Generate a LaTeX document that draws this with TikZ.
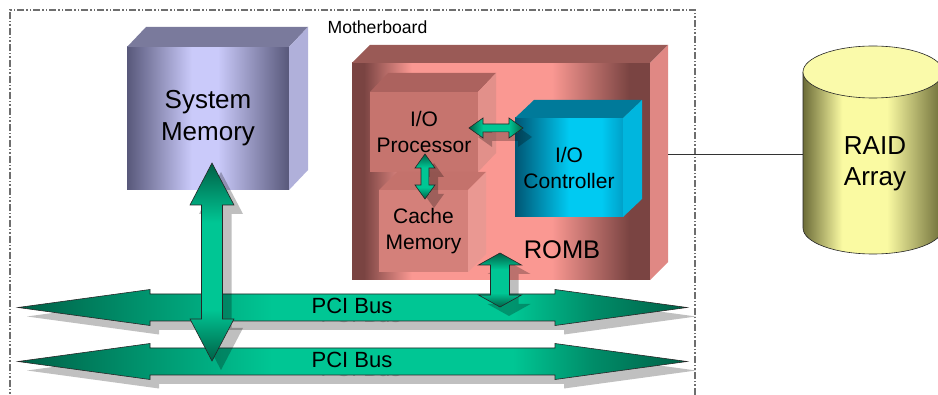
\documentclass[tikz,border=0pt]{standalone}
\usepackage{fontspec}
\setmainfont{Liberation Sans}
\usetikzlibrary{calc}

\definecolor{gdark}{RGB}{0,96,70}
\definecolor{gmid}{RGB}{0,140,104}
\definecolor{gbright}{RGB}{0,198,148}
\definecolor{smdark}{RGB}{88,88,122}
\definecolor{smlight}{RGB}{202,202,250}
\definecolor{smtop}{RGB}{122,122,156}
\definecolor{smright}{RGB}{176,176,218}
\definecolor{rombdark}{RGB}{122,68,66}
\definecolor{rombpink}{RGB}{250,152,146}
\definecolor{rombtop}{RGB}{154,90,86}
\definecolor{rombright}{RGB}{224,136,132}
\definecolor{procfront}{RGB}{198,116,110}
\definecolor{proctop}{RGB}{172,98,94}
\definecolor{procright}{RGB}{226,144,138}
\definecolor{cachefront}{RGB}{212,128,122}
\definecolor{cachetop}{RGB}{196,114,108}
\definecolor{cacheright}{RGB}{234,152,146}
\definecolor{ctrldark}{RGB}{0,86,116}
\definecolor{ctrllight}{RGB}{0,202,242}
\definecolor{ctrlend}{RGB}{0,160,200}
\definecolor{ctrltop}{RGB}{0,122,154}
\definecolor{ctrlright}{RGB}{0,182,222}
\definecolor{raiddark}{RGB}{108,108,56}
\definecolor{raidlight}{RGB}{250,250,162}
\definecolor{raidtop}{RGB}{250,250,170}
\definecolor{mbgray}{RGB}{110,110,110}
\definecolor{shadowgray}{RGB}{192,192,192}
\definecolor{ghostgray}{RGB}{150,150,150}

\pgfdeclarehorizontalshading{busshade}{100bp}{color(0bp)=(gdark); color(25bp)=(gdark); color(33bp)=(gmid); color(44bp)=(gbright); color(62bp)=(gbright); color(68bp)=(gmid); color(75bp)=(gdark); color(100bp)=(gdark)}
\pgfdeclarehorizontalshading{hsmall}{100bp}{color(0bp)=(gdark); color(25bp)=(gdark); color(38bp)=(gbright); color(62bp)=(gbright); color(75bp)=(gdark); color(100bp)=(gdark)}
\pgfdeclareverticalshading{vshade}{100bp}{color(0bp)=(gdark); color(25bp)=(gdark); color(38bp)=(gbright); color(60bp)=(gbright); color(75bp)=(gdark); color(100bp)=(gdark)}
\pgfdeclarehorizontalshading{smshade}{100bp}{color(0bp)=(smdark); color(25bp)=(smdark); color(45bp)=(smlight); color(53bp)=(smlight); color(75bp)=(smdark); color(100bp)=(smdark)}
\pgfdeclarehorizontalshading{rombshade}{100bp}{color(0bp)=(rombdark); color(25bp)=(rombdark); color(27bp)=(rombdark); color(35bp)=(rombpink); color(58.5bp)=(rombpink); color(71.5bp)=(rombdark); color(75bp)=(rombdark); color(100bp)=(rombdark)}
\pgfdeclarehorizontalshading{ctrlshade}{100bp}{color(0bp)=(ctrldark); color(25bp)=(ctrldark); color(50bp)=(ctrllight); color(65bp)=(ctrllight); color(75bp)=(ctrlend); color(100bp)=(ctrlend)}
\pgfdeclarehorizontalshading{raidshade}{100bp}{color(0bp)=(raiddark); color(25bp)=(raiddark); color(39bp)=(raidlight); color(55bp)=(raidlight); color(75bp)=(raiddark); color(100bp)=(raiddark)}

% horizontal double arrow: #1 left tip, #2 length, #3 shaft half, #4 head half, #5 head length, #6 style
\newcommand{\hdarr}[6]{\path[#6] (#1) -- ++(#5,-#4) -- ++(0,#4-#3) -- ++(#2-2*#5,0) -- ++(0,-#4+#3) -- ++(#5,#4) -- ++(-#5,#4) -- ++(0,-#4+#3) -- ++(-#2+2*#5,0) -- ++(0,#4-#3) -- cycle;}
% vertical double arrow: #1 top tip, #2 length, #3 shaft half, #4 head half, #5 head length, #6 style
\newcommand{\vdarr}[6]{\path[#6] (#1) -- ++(#4,#5) -- ++(-#4+#3,0) -- ++(0,#2-2*#5) -- ++(#4-#3,0) -- ++(-#4,#5) -- ++(-#4,-#5) -- ++(#4-#3,0) -- ++(0,-#2+2*#5) -- ++(-#4+#3,0) -- cycle;}

\begin{document}
\begin{tikzpicture}[x=1pt,y=-1pt,
  face/.style={draw=none, inner sep=0pt, outer sep=0pt, align=center, text=black},
  mbbox/.style={draw=mbgray, line width=1.1pt, dash pattern=on 7pt off 2pt on 1.5pt off 2pt on 1.5pt off 2pt, inner sep=0pt, outer sep=0pt},
  arrowline/.style={draw=black!85, line width=0.6pt},
  busfill/.style={shading=busshade, arrowline},
  hsfill/.style={shading=hsmall, arrowline},
  vsfill/.style={shading=vshade, arrowline},
  busshadow/.style={fill=shadowgray},
  arrshadow/.style={fill=black, fill opacity=0.25},
  bustxt/.style={font=\fontsize{22}{26}\selectfont, inner sep=0pt},
  ghosttxt/.style={font=\fontsize{22}{26}\selectfont, inner sep=0pt, text=ghostgray},
  midtxt/.style={font=\fontsize{21}{26}\selectfont}
]
\useasboundingbox (0,0) rectangle (938,395);
\fill[white] (0,0) rectangle (938,395);

% motherboard frame
\node[mbbox, minimum width=685, minimum height=388] (mb) at (352.5,204) {};
\node[font=\fontsize{17.6}{20}\selectfont, inner sep=0pt] (mblabel) at (377.5,27) {Motherboard};

% System memory cube
\node[face, shading=smshade, minimum width=162, minimum height=143, font=\fontsize{26}{32}\selectfont] (sm) at (208,118.5) {System\\Memory};
\fill[smtop] (sm.north west) -- ++(19,-20) -- ++(162,0) -- (sm.north east) -- cycle;
\fill[smright] (sm.north east) -- ++(19,-20) -- ++(0,143) -- (sm.south east) -- cycle;

% ROMB cube
\node[face, shading=rombshade, minimum width=298, minimum height=217] (romb) at (501,171.5) {};
\fill[rombtop] (romb.north west) -- ++(18,-18) -- ++(298,0) -- (romb.north east) -- cycle;
\fill[rombright] (romb.north east) -- ++(18,-18) -- ++(0,217) -- (romb.south east) -- cycle;
\node[font=\fontsize{25.5}{30}\selectfont, inner sep=0pt] (romblabel) at (562,250) {ROMB};
\coordinate (rombR) at ($(romb.east)+(18,-17.5)$);

% I/O Processor
\node[face, fill=procfront, minimum width=108, minimum height=80, midtxt] (proc) at (424,132) {I/O\\Processor};
\fill[proctop] (proc.north west) -- ++(18,-19) -- ++(108,0) -- (proc.north east) -- cycle;
\fill[procright] (proc.north east) -- ++(18,-19) -- ++(0,80) -- (proc.south east) -- cycle;

% Cache Memory
\node[face, fill=cachefront, minimum width=89, minimum height=82, midtxt] (cache) at (423.5,231) {Cache\\Memory};
\fill[cachetop] (cache.north west) -- ++(18,-18) -- ++(89,0) -- (cache.north east) -- cycle;
\fill[cacheright] (cache.north east) -- ++(18,-18) -- ++(0,82) -- (cache.south east) -- cycle;

% I/O Controller
\node[face, shading=ctrlshade, minimum width=108, minimum height=99, midtxt] (ctrl) at (569,167.5) {I/O\\Controller};
\fill[ctrltop] (ctrl.north west) -- ++(19,-18) -- ++(108,0) -- (ctrl.north east) -- cycle;
\fill[ctrlright] (ctrl.north east) -- ++(19,-18) -- ++(0,99) -- (ctrl.south east) -- cycle;

% small arrows
\coordinate (pcTip) at ($(proc.east)+(-9,-4)$);
\coordinate (pmTip) at ($(proc.south)+(1,-18)$);
\hdarr{$(pcTip)+(9,9)$}{54}{4}{10}{14}{arrshadow}
\hdarr{pcTip}{54}{4}{10}{14}{hsfill}
\vdarr{$(pmTip)+(9,9)$}{45}{4}{10}{14}{arrshadow}
\vdarr{pmTip}{45}{4}{10}{14}{vsfill}

% RAID array
\node[inner sep=0pt, outer sep=0pt, minimum width=140, minimum height=208] (raid) at (873,150) {};
\draw[line width=0.7pt, black!80] (rombR) -- (rombR -| raid.west);
\path[shading=raidshade] (803,72) -- (803,228) arc[start angle=180, end angle=360, x radius=70pt, y radius=26pt] -- (943,72) -- cycle;
\draw[line width=0.6pt, black!85] (803,72) -- (803,228) arc[start angle=180, end angle=360, x radius=70pt, y radius=26pt] -- (943,72);
\draw[line width=0.6pt, black!85, fill=raidtop] (873,72) ellipse[x radius=70pt, y radius=26pt];
\node[font=\fontsize{26}{31}\selectfont, align=center, inner sep=0pt] (raidlabel) at (875,164) {RAID\\Array};

% PCI buses
\coordinate (b1) at (18,307.5);
\coordinate (b2) at (18,361.5);
\hdarr{$(b1)+(9,9)$}{669}{13.5}{18}{132}{busshadow}
\node[ghosttxt] (pci1g) at (361,315) {PCI Bus};
\hdarr{b1}{669}{13.5}{18}{132}{busfill}
\node[bustxt] (pci1) at (352,306) {PCI Bus};

\hdarr{$(b2)+(9,9)$}{669}{13.5}{18}{132}{busshadow}
\node[ghosttxt] (pci2g) at (361,369) {PCI Bus};
\hdarr{b2}{669}{13.5}{18}{132}{busfill}
\node[bustxt] (pci2) at (352,360) {PCI Bus};

% big vertical arrow from system memory
\coordinate (bigTip) at ($(sm.south)+(4,-27)$);
\vdarr{$(bigTip)+(9,9)$}{198}{10.5}{22}{42}{arrshadow}
\vdarr{bigTip}{198}{10.5}{22}{42}{vsfill}

% ROMB to PCI bus arrow
\coordinate (rombTip) at ($(romb.south)+(-1,-27)$);
\vdarr{$(rombTip)+(9,9)$}{54}{9.5}{21.5}{12}{arrshadow}
\vdarr{rombTip}{54}{9.5}{21.5}{12}{vsfill}
\end{tikzpicture}
\end{document}
